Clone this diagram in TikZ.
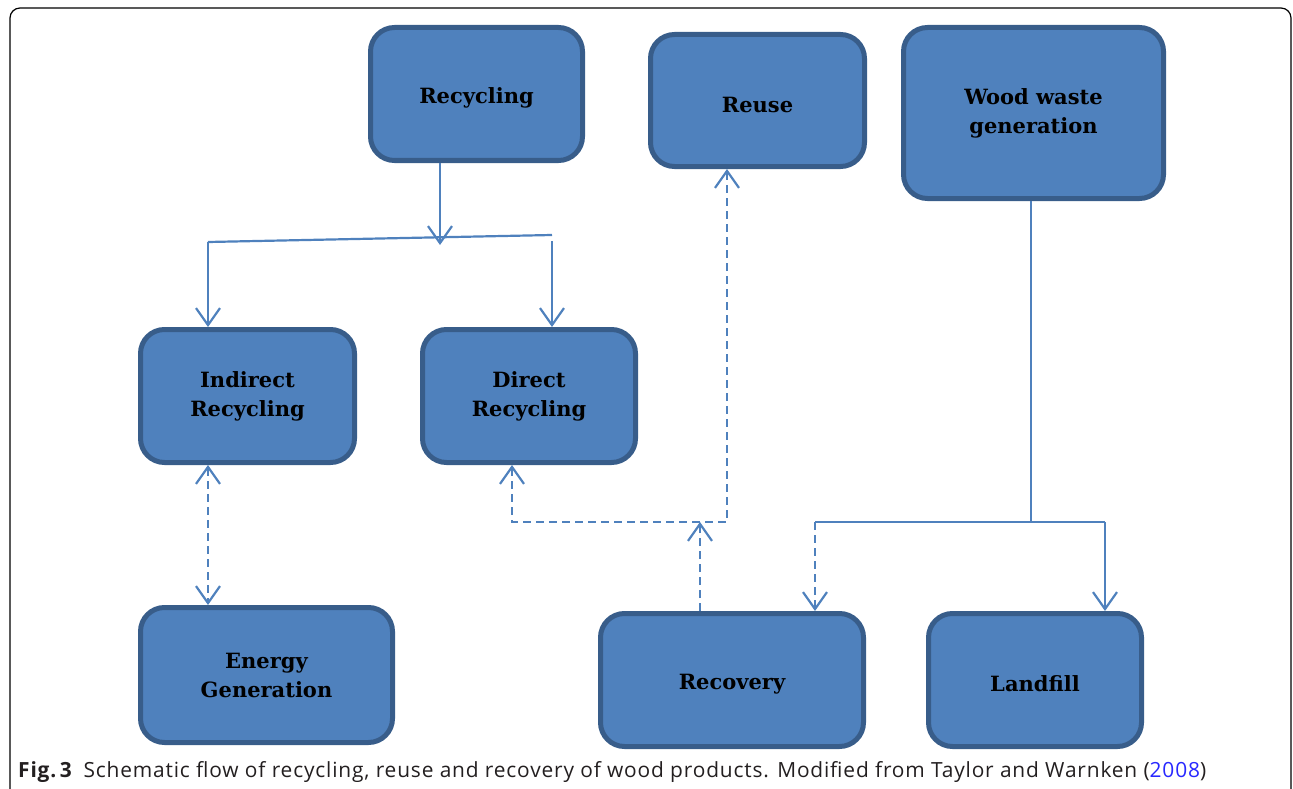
\documentclass[tikz,border=0pt]{standalone}
\definecolor{boxfill}{RGB}{79, 129, 189}
\definecolor{boxedge}{RGB}{56, 93, 138}
\definecolor{flowblue}{RGB}{79, 129, 189}
\definecolor{captext}{RGB}{35, 31, 32}
\definecolor{linkblue}{RGB}{40, 40, 255}
\usepackage{fontspec}
\setmainfont{DejaVu Serif}
\newfontfamily\capfont[LetterSpace=4]{Open Sans}
\usepackage{tikz}
\usetikzlibrary{arrows.meta, positioning, calc}
\tikzset{
  stage/.style={draw=boxedge, fill=boxfill, line width=5pt, rounded corners=24pt,
    align=center, inner sep=0pt, font=\fontsize{21}{29}\selectfont\bfseries,
    execute at begin node={\rule{0pt}{24pt}}},
  flow/.style={draw=flowblue, line width=2.2pt},
  dflow/.style={flow, dash pattern=on 8pt off 5pt},
  barb/.tip={Straight Barb[length=17pt, width=24pt]}
}

\begin{document}
\begin{tikzpicture}[x=1pt, y=-1pt]
  \useasboundingbox (0,0) rectangle (1293,789);
  \clip (0,0) rectangle (1293,789);
  \draw[line width=1.2pt, rounded corners=10pt] (10,8) rectangle (1291,805);

  % Top row
  \node[stage, minimum width=212, minimum height=133] (recycling) at (476.5,94) {Recycling};
  \node[stage, minimum width=214, minimum height=132] (reuse) at (757.5,100.5) {Reuse};
  \node[stage, minimum width=260, minimum height=171] (wood) at (1033.5,113) {Wood waste\\generation};

  % Middle row
  \node[stage, minimum width=214, minimum height=133] (indirect) at (247.5,396) {Indirect\\Recycling};
  \node[stage, minimum width=213, minimum height=133] (direct) at (529,396) {Direct\\Recycling};

  % Bottom row
  \node[stage, minimum width=252, minimum height=135] (energy) at (266.5,675) {Energy\\Generation};
  \node[stage, minimum width=263, minimum height=133] (recovery) at (732,680) {Recovery};
  \node[stage, minimum width=213, minimum height=133] (landfill) at (1035,680) {Landfill};

  % Recycling split
  \coordinate (split) at (440,245);
  \coordinate (splitL) at (208,242);
  \coordinate (splitR) at (552,235);
  \draw[flow, -barb] (recycling.south -| split) -- (split);
  \draw[flow] (splitL) -- (splitR);
  \draw[flow, -barb] (splitL) -- (indirect.north -| splitL);
  \draw[flow, -barb] ($(splitR)+(0,6)$) -- (direct.north -| splitR);

  % Indirect recycling <-> energy
  \draw[dflow, barb-barb] (indirect.south -| splitL) -- (energy.north -| splitL);

  % Recovery back to reuse and direct recycling
  \coordinate (meet) at (700,522);
  \coordinate (meetL) at (512,522);
  \coordinate (meetR) at (727,522);
  \draw[dflow, -barb] (recovery.north -| meet) -- (meet);
  \draw[dflow, barb-barb] (direct.south -| meetL) |- (meetR) -- (reuse.south -| meetR);

  % Wood waste fork
  \coordinate (fork) at (1031,522);
  \coordinate (forkL) at (815,522);
  \coordinate (forkR) at (1105,522);
  \draw[flow] (wood.south -| fork) -- (fork);
  \draw[flow] (forkL) -- (forkR);
  \draw[dflow, -barb] (forkL) -- (recovery.north -| forkL);
  \draw[flow, -barb] (forkR) -- (landfill.north -| forkR);

  % Caption
  \node[anchor=base west, inner sep=0pt, text=captext, font=\capfont\fontsize{20.9}{22}\selectfont] (caption) at (18,777)
    {\textbf{Fig.\,3}\hspace{11pt}Schematic flow of recycling, reuse and recovery of wood products. Modified from Taylor and Warnken (\textcolor{linkblue}{2008})};
\end{tikzpicture}
\end{document}
